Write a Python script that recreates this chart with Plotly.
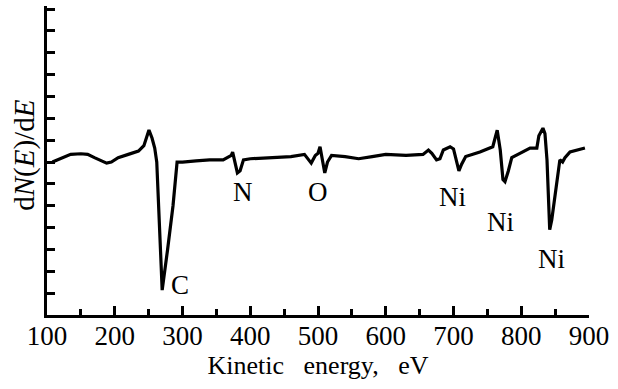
import plotly.graph_objects as go

# Kinetic energy (eV) and dN(E)/dE signal (arbitrary units)
energy = [108, 120, 135, 150, 160, 170, 180, 188, 195, 205, 220, 235, 243, 250.5, 255, 259,
          262, 266, 270, 278, 286, 292, 300, 320, 340, 360, 372, 374, 377, 381, 385, 390,
          400, 430, 460, 480, 490, 496, 500, 503, 507, 510, 514, 520, 540, 560, 580, 600,
          630, 655, 663, 668, 675, 680, 685, 695, 700, 705, 708, 712, 718, 739, 758, 764.5,
          769, 773, 776, 781, 786, 798, 813, 823, 826, 832, 835, 838, 840, 842, 845, 853,
          857, 861, 864.5, 872, 882, 894]
signal = [7.0, 7.15, 7.35, 7.38, 7.35, 7.2, 7.05, 6.95, 7.0, 7.2, 7.35, 7.5, 7.75, 8.46, 8.1, 7.64,
          7.0, 4.2, 1.14, 3.0, 5.0, 7.0, 7.0, 7.05, 7.1, 7.1, 7.3, 7.45, 7.1, 6.5, 6.6, 7.1,
          7.15, 7.2, 7.25, 7.35, 6.95, 7.3, 7.4, 7.7, 7.0, 6.5, 7.0, 7.3, 7.25, 7.15, 7.25, 7.35,
          7.3, 7.35, 7.55, 7.4, 7.1, 7.15, 7.55, 7.7, 7.6, 6.9, 6.6, 6.9, 7.25, 7.46, 7.7, 8.46,
          7.55, 6.2, 6.1, 6.6, 7.2, 7.4, 7.64, 7.64, 8.2, 8.55, 8.3, 7.1, 5.6, 3.9, 4.35, 6.3,
          7.1, 7.0, 7.2, 7.46, 7.55, 7.64]

# Peak labels
peak_names = ["C", "N", "O", "Ni", "Ni", "Ni"]
peak_x = [296, 389, 500, 698, 770, 844]
peak_y = [1.37, 5.63, 5.63, 5.4, 4.25, 2.56]

x_ticks = [100, 200, 300, 400, 500, 600, 700, 800, 900]

FONT = "Liberation Serif, Times New Roman, serif"

fig = go.Figure()
fig.add_trace(go.Scatter(x=energy, y=signal, mode="lines",
                         line=dict(color="black", width=3.2), hoverinfo="skip"))

for name, px, py in zip(peak_names, peak_x, peak_y):
    fig.add_annotation(x=px, y=py, xref="x", yref="y", text=name, showarrow=False,
                       font=dict(family=FONT, size=27, color="black"),
                       xanchor="center", yanchor="middle")

fig.add_annotation(x=-0.042, y=0.516, xref="paper", yref="paper",
                   text="d<i>N</i>(<i>E</i>)/d<i>E</i>", textangle=-90, showarrow=False,
                   font=dict(family=FONT, size=29, color="black"),
                   xanchor="center", yanchor="middle")

fig.update_layout(
    width=618, height=389,
    margin=dict(l=47, r=29, t=6, b=74),
    paper_bgcolor="white", plot_bgcolor="white",
    showlegend=False,
    font=dict(family=FONT, size=27, color="black"),
)
fig.update_xaxes(range=[100, 900], tickvals=x_ticks, ticktext=[str(v) for v in x_ticks],
                 showgrid=False, zeroline=False, showline=True, linecolor="black", linewidth=3,
                 ticks="inside", ticklen=9, tickwidth=2.5, tickcolor="black",
                 ticklabelstandoff=-5,
                 minor=dict(dtick=50, ticks="inside", ticklen=6, tickwidth=2.5, tickcolor="black"),
                 tickfont=dict(family=FONT, size=27, color="black"),
                 title=dict(text="Kinetic&nbsp;&nbsp; energy,&nbsp;&nbsp; eV",
                            font=dict(family=FONT, size=26, color="black"),
                            standoff=4))
fig.update_yaxes(range=[0, 14.14], tickvals=list(range(0, 15)), showticklabels=False,
                 showgrid=False, zeroline=False, showline=True, linecolor="black", linewidth=3,
                 ticks="inside", ticklen=8, tickwidth=2.5, tickcolor="black")

fig.write_html("out.html")
